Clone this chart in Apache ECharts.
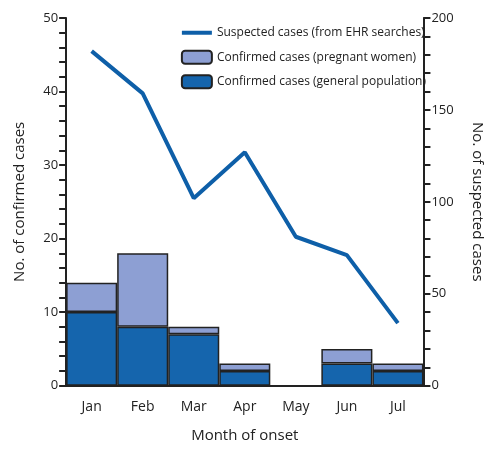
<!DOCTYPE html><html><head><script src="https://cdn.jsdelivr.net/npm/echarts@6/dist/echarts.min.js"></script></head><body style="margin:0"><div id="c" style="width:497px;height:453px"></div><script>
const months=['Jan','Feb','Mar','Apr','May','Jun','Jul'];
const general=[10,8,7,2,0,3,2];
const pregnant=[4,10,1,1,0,2,1];
const suspected=[182,159,102,127,81,71,34];
const F='"Open Sans", sans-serif';
const c=echarts.init(document.getElementById('c'));
const ax={lineStyle:{color:'#222',width:2}};
c.setOption({
textStyle:{fontFamily:F,color:'#222'},
grid:{left:57,right:60,top:18,bottom:56},
legend:{orient:'vertical',right:66,top:18,itemGap:5,itemWidth:30,itemHeight:13,textStyle:{fontFamily:F,fontSize:12,color:'#222'},
data:[{name:'Suspected cases (from EHR searches)',icon:'path://M0,0H30V4H0Z',itemStyle:{color:'#0e5fa8',borderWidth:0}},'Confirmed cases (pregnant women)','Confirmed cases (general population)']},
xAxis:{type:'category',data:months,axisLine:ax,axisTick:{alignWithLabel:true,lineStyle:{color:'#222',width:2},length:6},
axisLabel:{fontSize:14,color:'#222',margin:10},name:'Month of onset',nameLocation:'middle',nameGap:38,nameTextStyle:{fontSize:15,color:'#222'}},
yAxis:[{type:'value',min:0,max:50,interval:10,axisLine:{show:true,...ax},axisTick:{show:true,length:7,lineStyle:{color:'#222',width:2}},
minorTick:{show:true,splitNumber:5,length:7,lineStyle:{color:'#222',width:2}},splitLine:{show:false},axisLabel:{fontSize:13,color:'#222'},
name:'No. of confirmed cases',nameLocation:'middle',nameGap:32,nameTextStyle:{fontSize:15,color:'#222'}},
{type:'value',min:0,max:200,interval:50,axisLine:{show:true,...ax},axisTick:{show:true,length:7,lineStyle:{color:'#222',width:2}},
minorTick:{show:true,splitNumber:5,length:7,lineStyle:{color:'#222',width:2}},splitLine:{show:false},axisLabel:{fontSize:13,color:'#222'},
name:'No. of suspected cases',nameLocation:'middle',nameGap:40,nameRotate:-90,nameTextStyle:{fontSize:15,color:'#222'}}],
series:[
{name:'Confirmed cases (general population)',type:'bar',stack:'a',data:general,barCategoryGap:'0%',itemStyle:{color:'#1565ad',borderColor:'#222',borderWidth:1.5}},
{name:'Confirmed cases (pregnant women)',type:'bar',stack:'a',data:pregnant,itemStyle:{color:'#8d9fd3',borderColor:'#222',borderWidth:1.5}},
{name:'Suspected cases (from EHR searches)',type:'line',yAxisIndex:1,data:suspected,symbol:'none',lineStyle:{color:'#0e5fa8',width:4},itemStyle:{color:'#0e5fa8'}}
]});
</script></body></html>
